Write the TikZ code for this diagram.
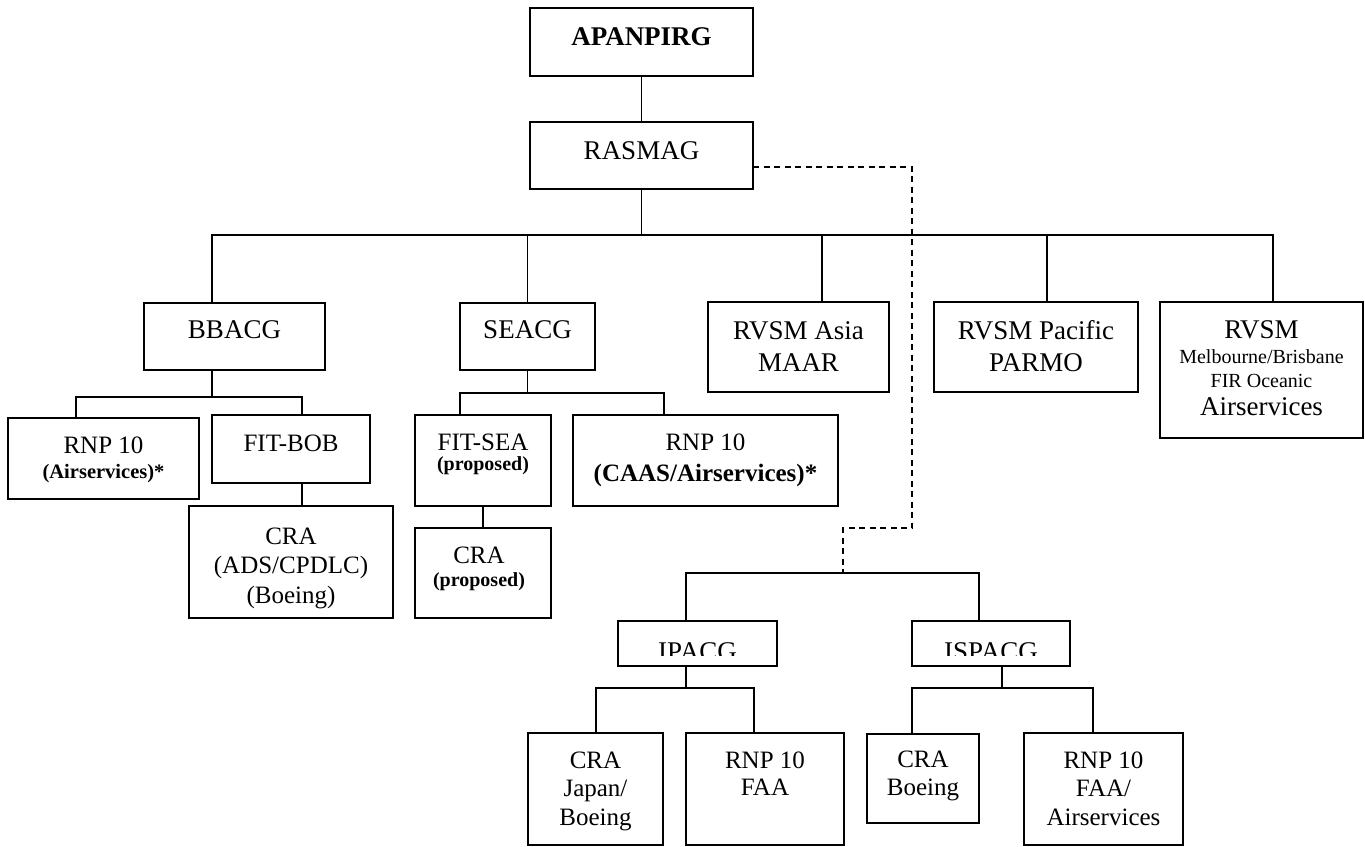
\documentclass[tikz,border=0pt]{standalone}
\usepackage{fontspec}
\setmainfont{Liberation Serif}
\newcommand\fsz[2]{\fontsize{#1}{#2}\selectfont}
\newcommand\bx[5]{\node[box, minimum width={(#4-#2)*1pt}, minimum height={(#5-#3)*1pt}] (#1) at (#2,#3) {};}
\begin{document}
\begin{tikzpicture}[x=1pt,y=-1pt,
  box/.style={draw, line width=1.8pt, inner sep=0pt, outer sep=0pt, anchor=north west},
  lbl/.style={anchor=base, align=center, inner sep=0pt},
  conn/.style={line width=1.8pt},
  dashline/.style={line width=1.8pt, dash pattern=on 6pt off 4.5pt}]
\useasboundingbox (0,0) rectangle (1365,846);
% boxes
\bx{apan}{530}{8}{753}{76}
\bx{rasmag}{530}{122}{753}{189}
\bx{bbacg}{144}{303}{325}{370}
\bx{seacg}{460}{303}{595}{370}
\bx{asia}{708}{302}{889}{392}
\bx{pac}{934}{302}{1138}{392}
\bx{melb}{1160}{302}{1363}{438}
\bx{rnpa}{8}{418}{199}{499}
\bx{fitbob}{212}{415}{370}{483}
\bx{craads}{189}{506}{393}{618}
\bx{fitsea}{415}{415}{551}{506}
\bx{rnpcaas}{573}{415}{838}{506}
\bx{craprop}{415}{528}{551}{618}
\bx{ipacg}{618}{621}{777}{666}
\bx{ispacg}{912}{621}{1070}{666}
\bx{crajap}{528}{733}{663}{845}
\bx{rnpfaa}{686}{733}{844}{845}
\bx{craboe}{867}{734}{979}{823}
\bx{rnpfaaa}{1024}{733}{1183}{845}
% texts (anchor = baseline of the last line)
\node[lbl, font=\fsz{27}{31}\bfseries] (t-apan) at (641.5,45) {APANPIRG};
\node[lbl, font=\fsz{27}{31}] (t-rasmag) at (641.5,159) {RASMAG};
\node[lbl, font=\fsz{27}{31}] (t-bbacg) at (234.5,338) {BBACG};
\node[lbl, font=\fsz{27}{31}] (t-seacg) at (527.5,338) {SEACG};
\node[lbl, font=\fsz{27}{32}] (t-asia) at (798.5,371) {RVSM Asia\\MAAR};
\node[lbl, font=\fsz{27}{32}] (t-pac) at (1036,371) {RVSM Pacific\\PARMO};
\node[lbl, font=\fsz{27}{25}] (t-melb) at (1261.5,415) {RVSM\\{\fsz{20}{24}Melbourne/Brisbane}\\[-1pt]{\fsz{20}{24}FIR Oceanic}\\[3pt]Airservices};
\node[lbl, font=\fsz{25}{25}] (t-rnpa) at (103.5,478) {RNP 10\\{\fsz{20.5}{25}\bfseries (Airservices)*}};
\node[lbl, font=\fsz{25}{29}] (t-fitbob) at (291,451) {FIT-BOB};
\node[lbl, font=\fsz{25}{29.5}] (t-craads) at (291,603) {CRA\\(ADS/CPDLC)\\(Boeing)};
\node[lbl, font=\fsz{25}{20}] (t-fitsea) at (483,470) {FIT-SEA\\{\fsz{20}{20}\bfseries (proposed)}};
\node[lbl, font=\fsz{25}{31}] (t-rnpcaas) at (705.5,481) {RNP 10\\{\bfseries (CAAS/Airservices)*}};
\node[lbl, font=\fsz{25}{23}] (t-craprop) at (479,586) {CRA\\{\fsz{20}{23}\bfseries (proposed)}};
\begin{scope}
  \clip (600,600) rectangle (1090,655);
  \node[lbl, font=\fsz{27}{31}] (t-ipacg) at (697.5,660) {IPACG};
  \node[lbl, font=\fsz{27}{31}] (t-ispacg) at (991,660) {ISPACG};
\end{scope}
\node[lbl, font=\fsz{25}{28.5}] (t-crajap) at (595.5,825) {CRA\\Japan/\\Boeing};
\node[lbl, font=\fsz{25}{27}] (t-rnpfaa) at (765,795) {RNP 10\\FAA};
\node[lbl, font=\fsz{25}{28}] (t-craboe) at (923,795) {CRA\\Boeing};
\node[lbl, font=\fsz{25}{28.5}] (t-rnpfaaa) at (1103.5,825) {RNP 10\\FAA/\\Airservices};
% connectors
\draw[conn] (apan.south) -- (rasmag.north);
\coordinate (busL) at (212,235);
\coordinate (busR) at (1273,235);
\draw[conn] (rasmag.south) -- (rasmag.south |- busL);
\draw[conn] (busL |- bbacg.north) -- (busL) -- (busR) -- (busR |- melb.north);
\draw[conn] (seacg.north) -- (seacg.north |- busL);
\coordinate (tapA) at (822,235);
\draw[conn] (tapA) -- (tapA |- asia.north);
\coordinate (tapP) at (1047,235);
\draw[conn] (tapP) -- (tapP |- pac.north);
% BBACG branch
\coordinate (bL) at (76,397);
\coordinate (bR) at (302,397);
\draw[conn] (busL |- bbacg.south) -- (busL |- bL);
\draw[conn] (bL |- rnpa.north) -- (bL) -- (bR) -- (bR |- fitbob.north);
\draw[conn] (bR |- fitbob.south) -- (bR |- craads.north);
% SEACG branch
\coordinate (sL) at (460,393);
\coordinate (sR) at (664,393);
\draw[conn] (seacg.south) -- (seacg.south |- sL);
\draw[conn] (sL |- fitsea.north) -- (sL) -- (sR) -- (sR |- rnpcaas.north);
\draw[conn] (fitsea.south) -- (craprop.north);
% dashed link
\coordinate (d1) at (912,167);
\coordinate (d2) at (912,528);
\coordinate (d3) at (843,528);
\coordinate (d4) at (843,573);
\draw[dashline] (rasmag.east |- d1) -- (d1) -- (d2) -- (d3) -- (d4);
% IPACG / ISPACG
\coordinate (iL) at (686,573);
\coordinate (iR) at (979,573);
\draw[conn] (iL |- ipacg.north) -- (iL) -- (iR) -- (iR |- ispacg.north);
\coordinate (jL) at (596,688);
\coordinate (jR) at (754,688);
\draw[conn] (iL |- ipacg.south) -- (iL |- jL);
\draw[conn] (jL |- crajap.north) -- (jL) -- (jR) -- (jR |- rnpfaa.north);
\coordinate (kL) at (912,688);
\coordinate (kR) at (1093,688);
\coordinate (kM) at (1002,688);
\draw[conn] (kM |- ispacg.south) -- (kM);
\draw[conn] (kL |- craboe.north) -- (kL) -- (kR) -- (kR |- rnpfaaa.north);
\end{tikzpicture}
\end{document}
